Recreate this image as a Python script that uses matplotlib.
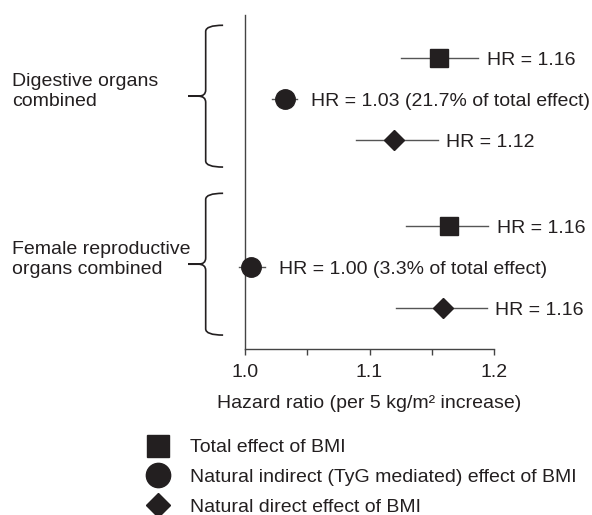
import matplotlib
matplotlib.use('Agg')
import numpy as np
import matplotlib.pyplot as plt
import matplotlib.transforms as mtransforms
from matplotlib.path import Path
from matplotlib.patches import PathPatch
from matplotlib.lines import Line2D

plt.rcParams['font.family'] = ['Liberation Sans', 'DejaVu Sans']
plt.rcParams['font.size'] = 14

# values
groups = ["Digestive organs\ncombined", "Female reproductive\norgans combined"]
effects = ["Total effect of BMI",
           "Natural indirect (TyG mediated) effect of BMI",
           "Natural direct effect of BMI"]
hr = [[1.156, 1.032, 1.120], [1.164, 1.005, 1.159]]
ci_lo = [[1.125, 1.022, 1.089], [1.129, 0.995, 1.121]]
ci_hi = [[1.187, 1.042, 1.155], [1.195, 1.016, 1.194]]
hr_text = [["HR = 1.16", "HR = 1.03 (21.7% of total effect)", "HR = 1.12"],
           ["HR = 1.16", "HR = 1.00 (3.3% of total effect)", "HR = 1.16"]]
xticks = [1.0, 1.1, 1.2]

dark = '#231f20'
markers = ['s', 'o', 'D']
msizes = [13.5, 14, 9.8]
text_pad = [6.5, 10, 6]
group_gap = 4.1

fig = plt.figure(figsize=(5.92, 5.15), dpi=100)
ax = fig.add_axes([0.4139, 0.3223, 0.4206, 0.6485])
trans = mtransforms.blended_transform_factory(ax.transAxes, ax.transData)


def brace(top, bot, x_v=-0.158, x_hook=-0.088, x_tip=-0.229, r=0.15, dx=0.03):
    mid = (top + bot) / 2
    verts = [(x_hook, top), (x_v, top), (x_v, top + r),
             (x_v, mid - r), (x_v, mid), (x_v - dx, mid),
             (x_tip, mid), (x_v - dx, mid),
             (x_v, mid), (x_v, mid + r),
             (x_v, bot - r), (x_v, bot), (x_hook, bot)]
    codes = [Path.MOVETO, Path.CURVE3, Path.CURVE3,
             Path.LINETO, Path.CURVE3, Path.CURVE3,
             Path.LINETO, Path.LINETO,
             Path.CURVE3, Path.CURVE3,
             Path.LINETO, Path.CURVE3, Path.CURVE3]
    p = PathPatch(Path(verts, codes), transform=trans, fill=False,
                  lw=1.2, edgecolor=dark, clip_on=False)
    ax.add_patch(p)


for g, name in enumerate(groups):
    y0 = g * group_gap
    for i in range(3):
        y = y0 + i
        ax.plot([ci_lo[g][i], ci_hi[g][i]], [y, y], color='#555555', lw=1,
                clip_on=False, zorder=2)
        ax.plot(hr[g][i], y, marker=markers[i], ms=msizes[i], color=dark,
                clip_on=False, zorder=3)
        ax.annotate(hr_text[g][i], xy=(ci_hi[g][i], y), xytext=(text_pad[i], 0),
                    textcoords='offset points', va='center_baseline', ha='left',
                    color=dark, annotation_clip=False)
    brace(y0 - 0.8, y0 + 2.66)
    ax.text(-0.935, y0 + 0.82, name, transform=trans, ha='left', va='center',
            color=dark, linespacing=1.2)

ax.set_xlim(1.0, 1.2)
ax.set_ylim(7.1, -1.05)
ax.set_xticks(xticks)
ax.set_xticks([1.05, 1.15], minor=True)
ax.set_yticks([])
ax.tick_params(axis='x', which='both', direction='out', length=4.5, width=1,
               color='#444444', labelcolor=dark, pad=6.5)
for s in ['top', 'right']:
    ax.spines[s].set_visible(False)
for s in ['left', 'bottom']:
    ax.spines[s].set_color('#444444')
    ax.spines[s].set_linewidth(1)
ax.set_xlabel("Hazard ratio (per 5 kg/m² increase)", color=dark, labelpad=10)

handles = [Line2D([], [], marker='s', ms=16, color=dark, ls='none'),
           Line2D([], [], marker='o', ms=17.5, color=dark, ls='none'),
           Line2D([], [], marker='D', ms=12.5, color=dark, ls='none')]
fig.legend(handles, effects, loc='upper left', bbox_to_anchor=(0.2466, 0.148),
           frameon=False, handlelength=1.2, handletextpad=1.05, labelspacing=0.62,
           borderpad=0, borderaxespad=0, labelcolor=dark)

fig.savefig('out.png', dpi=100)
